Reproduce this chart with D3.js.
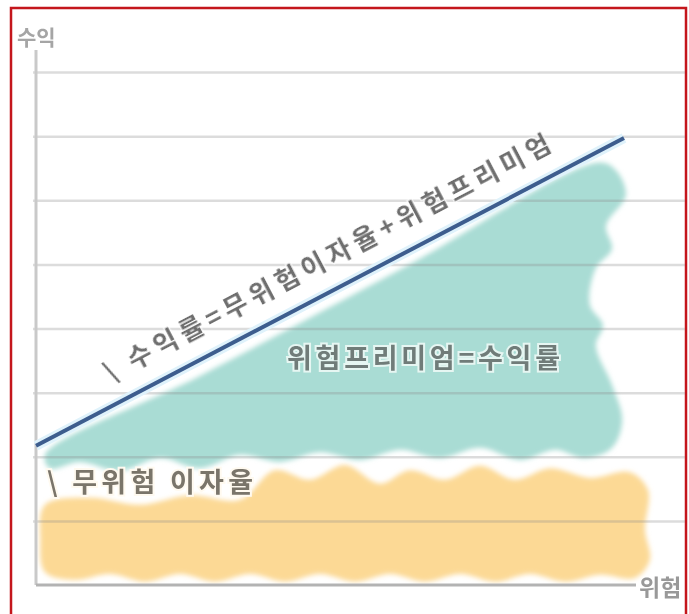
<!DOCTYPE html>
<html>
<head>
<meta charset="utf-8">
<script src="https://cdn.jsdelivr.net/npm/d3@7"></script>
<style>
  html, body { margin: 0; padding: 0; background: #fff; }
  svg { display: block; }
  text { font-family: "Noto Sans CJK KR", "Noto Sans", sans-serif; }
</style>
</head>
<body>
<svg id="chart" width="689" height="614"></svg>
<script>
// ---- data (risk on x, return on y; abstract units) ----
const axisLabels = { y: "수익", x: "위험" };
const gridValues = [10, 20, 30, 40, 50, 60, 70, 80];

// line: return = risk-free + premium
const lineRisk   = [0, 98];
const lineReturn = [21.7, 69.7];

// risk-premium region outline (teal)
const premiumRisk   = [1.5, 27.3, 60.7, 94, 96.7, 98.3, 95, 96, 93.3, 92.3, 94.5, 93.3, 96, 97.7, 96, 91.5, 86.5, 80.7, 74, 67.3, 60.7, 54, 47.3, 40.7, 34, 27.3, 20.7, 14, 7.3, 2.3];
const premiumReturn = [20.3, 32.6, 49.2, 65.9, 64.6, 60.8, 56.0, 52.4, 49.4, 43.7, 40.5, 37.4, 31.2, 25.7, 21.4, 19.8, 21.1, 19.5, 21.4, 19.8, 21.1, 19.5, 20.7, 19.2, 20.3, 18.2, 19.8, 17.8, 19.2, 18.2];

// risk-free-rate region outline (orange)
const riskFreeRisk   = [1.5, 9, 17.3, 25.7, 34, 39.8, 45.7, 51.5, 57.3, 62.3, 68.2, 74, 79.8, 85.7, 92.3, 99, 102, 101.5, 102.3, 99.8, 94, 88.2, 82.3, 76.5, 70.7, 64.8, 59, 53.2, 47.3, 41.5, 35.7, 29.8, 24, 18.2, 12.3, 6.5, 1.5, 0.7];
const riskFreeReturn = [12.5, 13.6, 12.5, 14.0, 13.3, 17.9, 16.4, 18.7, 15.8, 17.9, 16.4, 18.6, 16.4, 18.2, 16.7, 17.6, 14.8, 8.6, 3.9, 1.1, 1.6, 0.5, 1.7, 0.5, 1.7, 0.5, 1.7, 0.5, 1.7, 0.5, 1.7, 0.5, 1.7, 0.5, 1.7, 0.8, 2.0, 7.0];

const labelLine     = "\\ 수익률=무위험이자율+위험프리미엄";
const labelPremium  = "위험프리미엄=수익률";
const labelRiskFree = "\\ 무위험 이자율";

// ---- scales ----
const svg = d3.select("#chart");
const x = d3.scaleLinear().domain([0, 100]).range([36, 636]);
const y = d3.scaleLinear().domain([0, 80]).range([585, 72]);

const defs = svg.append("defs");
defs.append("filter").attr("id", "soft").attr("x", "-5%").attr("y", "-5%").attr("width", "110%").attr("height", "110%")
  .append("feGaussianBlur").attr("stdDeviation", 2.6);
defs.append("filter").attr("id", "soft2")
  .append("feGaussianBlur").attr("stdDeviation", 0.7);

const blob = d3.line().x(d => x(d[0])).y(d => y(d[1])).curve(d3.curveCatmullRomClosed.alpha(0.5));

// frame
svg.append("rect").attr("x", 11).attr("y", 8).attr("width", 675).attr("height", 620)
  .attr("fill", "none").attr("stroke", "#c4161c").attr("stroke-width", 2.5);

// regions
const premiumPts = d3.zip(premiumRisk, premiumReturn);
const riskFreePts = d3.zip(riskFreeRisk, riskFreeReturn);

svg.append("path").attr("d", blob(riskFreePts))
  .attr("fill", "#fcd995").attr("filter", "url(#soft)");
svg.append("path").attr("d", blob(premiumPts))
  .attr("fill", "#a9dcd4").attr("filter", "url(#soft)");

// gridlines
svg.append("g").attr("transform", "translate(33,0)")
  .call(d3.axisLeft(y).tickValues(gridValues).tickSize(-652).tickFormat(""))
  .call(g => g.select(".domain").remove())
  .call(g => g.selectAll("line").attr("stroke", "#8a8a8a").attr("stroke-opacity", 0.3).attr("stroke-width", 2.5));

// axes
svg.append("line").attr("x1", x(0)).attr("x2", x(0)).attr("y1", 50).attr("y2", y(0))
  .attr("stroke", "#c9c9c9").attr("stroke-width", 3);
svg.append("line").attr("x1", x(0)).attr("x2", x(100)).attr("y1", y(0)).attr("y2", y(0))
  .attr("stroke", "#b3b3b3").attr("stroke-width", 3);

// main line with halo
const linePts = d3.zip(lineRisk, lineReturn);
const ln = d3.line().x(d => x(d[0])).y(d => y(d[1]));
svg.append("path").attr("d", ln(linePts)).attr("stroke", "#dff2fb").attr("stroke-width", 10).attr("fill", "none");
svg.append("path").attr("d", ln(linePts)).attr("stroke", "#3d5d8e").attr("stroke-width", 4).attr("fill", "none")
  .attr("filter", "url(#soft2)");

// line label
const x0 = x(lineRisk[0]), y0 = y(lineReturn[0]), x1 = x(lineRisk[1]), y1 = y(lineReturn[1]);
const ang = Math.atan2(y1 - y0, x1 - x0) * 180 / Math.PI;
const t = 0.52;
const nx = Math.sin(ang * Math.PI / 180), ny = -Math.cos(ang * Math.PI / 180);
const cx = x0 + (x1 - x0) * t + nx * 22, cy = y0 + (y1 - y0) * t + ny * 22;
svg.append("text").attr("transform", `translate(${cx},${cy}) rotate(${ang})`)
  .attr("text-anchor", "middle").attr("font-size", 26).attr("font-weight", "bold")
  .attr("textLength", 500).attr("lengthAdjust", "spacing")
  .attr("fill", "#6e6e6e").attr("stroke", "#ffffff").attr("stroke-width", 3).attr("stroke-opacity", 0.7)
  .attr("paint-order", "stroke").attr("filter", "url(#soft2)")
  .text(labelLine);

// region labels
svg.append("text").attr("x", 287).attr("y", 368).attr("font-size", 27).attr("font-weight", "bold")
  .attr("textLength", 273).attr("lengthAdjust", "spacing")
  .attr("fill", "#6f7c79").attr("stroke", "#e6f6f2").attr("stroke-width", 4).attr("paint-order", "stroke")
  .attr("filter", "url(#soft2)").text(labelPremium);

svg.append("text").attr("x", 47).attr("y", 492).attr("font-size", 27).attr("font-weight", "bold")
  .attr("textLength", 206).attr("lengthAdjust", "spacing")
  .attr("fill", "#7a746a").attr("stroke", "#fffaf0").attr("stroke-width", 4).attr("paint-order", "stroke")
  .attr("filter", "url(#soft2)").text(labelRiskFree);

// axis titles
svg.append("text").attr("x", 17).attr("y", 45).attr("font-size", 21).attr("font-weight", "bold")
  .attr("fill", "#a5a5a5").attr("filter", "url(#soft2)").text(axisLabels.y);
svg.append("text").attr("x", 639).attr("y", 596).attr("font-size", 23).attr("font-weight", "bold")
  .attr("fill", "#999").attr("filter", "url(#soft2)").text(axisLabels.x);
</script>
</body>
</html>
